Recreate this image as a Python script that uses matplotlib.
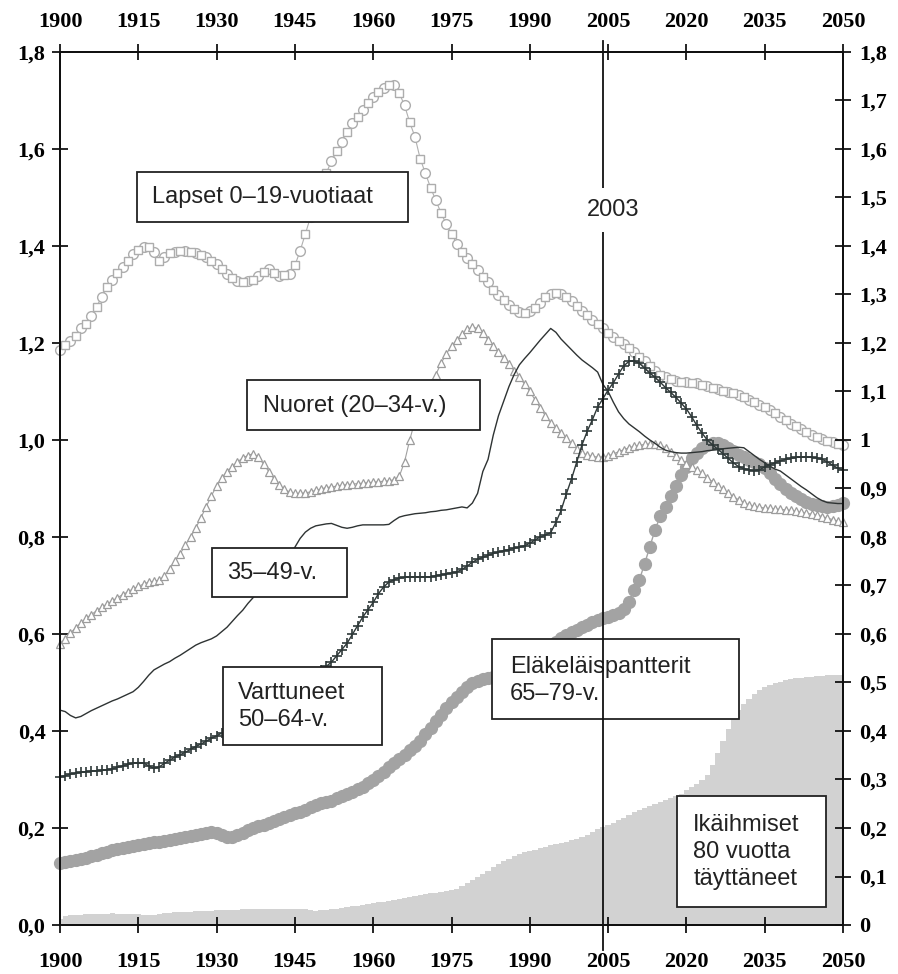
import numpy as np
import matplotlib.pyplot as plt
from matplotlib.patches import Rectangle

years = np.arange(1900, 2051)

# Lapset 0-19-vuotiaat
lapset = [1.185, 1.195, 1.205, 1.215, 1.23, 1.24, 1.255, 1.275, 1.295, 1.315,
          1.33, 1.345, 1.357, 1.37, 1.383, 1.392, 1.397, 1.398, 1.388, 1.37,
          1.378, 1.385, 1.388, 1.39, 1.39, 1.388, 1.386, 1.382, 1.377, 1.37,
          1.362, 1.352, 1.343, 1.335, 1.328, 1.326, 1.327, 1.33, 1.338, 1.346,
          1.352, 1.345, 1.338, 1.34, 1.343, 1.36, 1.39, 1.425, 1.46, 1.49,
          1.52, 1.55, 1.575, 1.595, 1.615, 1.636, 1.653, 1.667, 1.68, 1.694,
          1.707, 1.717, 1.726, 1.731, 1.732, 1.715, 1.69, 1.655, 1.625, 1.58,
          1.55, 1.52, 1.494, 1.468, 1.445, 1.425, 1.405, 1.388, 1.375, 1.362,
          1.35, 1.337, 1.325, 1.31, 1.298, 1.288, 1.278, 1.27, 1.263, 1.262,
          1.265, 1.272, 1.282, 1.295, 1.302, 1.304, 1.301, 1.295, 1.287, 1.276,
          1.265, 1.257, 1.248, 1.24, 1.23, 1.22, 1.212, 1.204, 1.197, 1.19,
          1.182, 1.172, 1.162, 1.152, 1.142, 1.134, 1.13, 1.126, 1.122, 1.12,
          1.119, 1.118, 1.117, 1.114, 1.111, 1.108, 1.105, 1.102, 1.099, 1.097,
          1.093, 1.088, 1.083, 1.078, 1.073, 1.068, 1.062, 1.055, 1.048, 1.041,
          1.034, 1.028, 1.022, 1.016, 1.011, 1.006, 1.002, 0.998, 0.995, 0.992,
          0.99]

# Nuoret 20-34
nuoret = [0.58, 0.59, 0.602, 0.613, 0.623, 0.632, 0.64, 0.648, 0.655, 0.662,
          0.668, 0.675, 0.681, 0.687, 0.693, 0.698, 0.703, 0.707, 0.709, 0.711,
          0.72, 0.735, 0.75, 0.765, 0.783, 0.8, 0.818, 0.84, 0.862, 0.885,
          0.905, 0.922, 0.935, 0.945, 0.955, 0.963, 0.968, 0.972, 0.965, 0.95,
          0.935, 0.92, 0.907, 0.898, 0.893, 0.89, 0.89, 0.891, 0.893, 0.896,
          0.899, 0.902, 0.903, 0.905, 0.907, 0.908, 0.909, 0.91, 0.911, 0.912,
          0.913, 0.914, 0.915, 0.916, 0.918, 0.925, 0.955, 1.0, 1.04, 1.075,
          1.1, 1.118, 1.135, 1.158, 1.178, 1.193, 1.206, 1.218, 1.228, 1.233,
          1.23, 1.22, 1.207, 1.194, 1.181, 1.169, 1.156, 1.143, 1.13, 1.115,
          1.1, 1.083, 1.066, 1.05, 1.036, 1.024, 1.015, 1.004, 0.993, 0.982,
          0.974, 0.969, 0.966, 0.965, 0.965, 0.967, 0.971, 0.976, 0.98, 0.984,
          0.987, 0.989, 0.991, 0.992, 0.992, 0.99, 0.984, 0.975, 0.966, 0.958,
          0.951, 0.944, 0.938, 0.931, 0.922, 0.914, 0.906, 0.898, 0.89, 0.883,
          0.877, 0.871, 0.866, 0.863, 0.861, 0.86, 0.859, 0.858, 0.857, 0.856,
          0.855, 0.853, 0.851, 0.849, 0.847, 0.845, 0.842, 0.839, 0.836, 0.833,
          0.83]

# 35-49
keski = [0.443, 0.44, 0.432, 0.427, 0.43, 0.436, 0.442, 0.447, 0.452, 0.457,
         0.462, 0.466, 0.471, 0.476, 0.481, 0.49, 0.502, 0.515, 0.526, 0.532,
         0.538, 0.543, 0.55, 0.556, 0.563, 0.57, 0.577, 0.582, 0.586, 0.59,
         0.596, 0.605, 0.614, 0.626, 0.638, 0.649, 0.663, 0.675, 0.688, 0.7,
         0.713, 0.726, 0.739, 0.752, 0.765, 0.779, 0.797, 0.81, 0.818, 0.823,
         0.825, 0.827, 0.828, 0.824, 0.82, 0.818, 0.82, 0.823, 0.825, 0.825,
         0.825, 0.825, 0.825, 0.826, 0.834, 0.841, 0.844, 0.846, 0.848, 0.849,
         0.85, 0.852, 0.853, 0.855, 0.856, 0.858, 0.86, 0.862, 0.86, 0.87,
         0.89, 0.935, 0.96, 1.01, 1.05, 1.08, 1.11, 1.135, 1.155, 1.168,
         1.18, 1.193, 1.206, 1.218, 1.23, 1.222, 1.208, 1.197, 1.186, 1.175,
         1.165, 1.157, 1.149, 1.14, 1.115, 1.1, 1.078, 1.058, 1.044, 1.033,
         1.025, 1.017, 1.008, 1.0, 0.993, 0.985, 0.979, 0.976, 0.974, 0.973,
         0.973, 0.974, 0.975, 0.976, 0.978, 0.979, 0.98, 0.982, 0.983, 0.984,
         0.985, 0.984, 0.976, 0.968, 0.96, 0.953, 0.946, 0.94, 0.936, 0.928,
         0.92, 0.912, 0.904, 0.897, 0.889, 0.881, 0.875, 0.871, 0.87, 0.869,
         0.869]

# Varttuneet 50-64
varttuneet = [0.305, 0.308, 0.311, 0.313, 0.315, 0.316, 0.317, 0.318, 0.319, 0.32,
              0.322, 0.325, 0.328, 0.331, 0.334, 0.335, 0.334, 0.328, 0.323, 0.326,
              0.333, 0.34, 0.346, 0.351, 0.356, 0.362, 0.368, 0.373, 0.379, 0.385,
              0.39, 0.396, 0.403, 0.41, 0.417, 0.424, 0.43, 0.437, 0.443, 0.45,
              0.456, 0.462, 0.468, 0.474, 0.48, 0.487, 0.494, 0.502, 0.51, 0.518,
              0.526, 0.533, 0.542, 0.555, 0.568, 0.581, 0.599, 0.617, 0.635, 0.65,
              0.665, 0.683, 0.697, 0.707, 0.712, 0.715, 0.717, 0.718, 0.718, 0.718,
              0.718, 0.718, 0.72, 0.722, 0.724, 0.726, 0.728, 0.733, 0.74, 0.748,
              0.754, 0.758, 0.762, 0.766, 0.769, 0.772, 0.774, 0.777, 0.779, 0.782,
              0.787, 0.794, 0.8, 0.804, 0.809, 0.83, 0.855, 0.889, 0.92, 0.955,
              0.99, 1.018, 1.042, 1.068, 1.085, 1.103, 1.118, 1.136, 1.153, 1.162,
              1.163, 1.158, 1.148, 1.138, 1.129, 1.119, 1.108, 1.098, 1.088, 1.076,
              1.064, 1.048, 1.03, 1.014, 1.0, 0.99, 0.981, 0.972, 0.962, 0.953,
              0.945, 0.941, 0.938, 0.937, 0.939, 0.944, 0.949, 0.953, 0.957, 0.96,
              0.962, 0.964, 0.965, 0.965, 0.964, 0.963, 0.96, 0.955, 0.948, 0.942,
              0.938]

# Eläkeläispantterit 65-79
elake = [0.128, 0.13, 0.132, 0.134, 0.137, 0.139, 0.142, 0.145, 0.148, 0.151,
         0.154, 0.157, 0.159, 0.161, 0.163, 0.165, 0.167, 0.169, 0.171, 0.172,
         0.174, 0.175, 0.177, 0.179, 0.181, 0.183, 0.185, 0.188, 0.19, 0.192,
         0.19, 0.186, 0.182, 0.181, 0.185, 0.19, 0.195, 0.2, 0.204, 0.207,
         0.211, 0.215, 0.219, 0.222, 0.226, 0.23, 0.234, 0.238, 0.243, 0.247,
         0.251, 0.253, 0.256, 0.261, 0.266, 0.27, 0.275, 0.28, 0.285, 0.292,
         0.3, 0.308, 0.316, 0.325, 0.333, 0.342, 0.351, 0.361, 0.37, 0.38,
         0.393, 0.407, 0.42, 0.434, 0.447, 0.46, 0.471, 0.481, 0.49, 0.498,
         0.503, 0.507, 0.509, 0.511, 0.514, 0.518, 0.523, 0.528, 0.534, 0.54,
         0.547, 0.554, 0.562, 0.569, 0.576, 0.584, 0.592, 0.598, 0.604, 0.609,
         0.614, 0.619, 0.624, 0.628, 0.632, 0.636, 0.64, 0.644, 0.652, 0.665,
         0.69, 0.712, 0.745, 0.78, 0.815, 0.843, 0.862, 0.885, 0.905, 0.927,
         0.945, 0.962, 0.973, 0.983, 0.99, 0.994, 0.994, 0.99, 0.984, 0.977,
         0.969, 0.964, 0.959, 0.955, 0.951, 0.942, 0.931, 0.92, 0.909, 0.899,
         0.891, 0.884, 0.878, 0.873, 0.869, 0.866, 0.863, 0.862, 0.863, 0.866,
         0.87]

# Ikäihmiset 80+
ikaihmiset = [0.012, 0.018, 0.02, 0.021, 0.021, 0.022, 0.022, 0.022, 0.023, 0.023,
              0.024, 0.023, 0.022, 0.022, 0.022, 0.023, 0.021, 0.02, 0.021, 0.023,
              0.024, 0.025, 0.026, 0.026, 0.027, 0.027, 0.028, 0.028, 0.029, 0.029,
              0.03, 0.03, 0.031, 0.031, 0.031, 0.032, 0.032, 0.032, 0.033, 0.033,
              0.033, 0.033, 0.034, 0.034, 0.034, 0.034, 0.034, 0.033, 0.03, 0.029,
              0.03, 0.031, 0.032, 0.034, 0.035, 0.037, 0.039, 0.04, 0.042, 0.044,
              0.045, 0.047, 0.048, 0.05, 0.052, 0.054, 0.056, 0.058, 0.06, 0.062,
              0.063, 0.065, 0.066, 0.068, 0.07, 0.072, 0.075, 0.08, 0.086, 0.093,
              0.099, 0.106, 0.112, 0.119, 0.125, 0.131, 0.137, 0.142, 0.146, 0.15,
              0.153, 0.155, 0.158, 0.161, 0.164, 0.167, 0.169, 0.172, 0.175, 0.178,
              0.181, 0.186, 0.192, 0.197, 0.202, 0.206, 0.211, 0.216, 0.221, 0.227,
              0.232, 0.237, 0.241, 0.245, 0.249, 0.253, 0.258, 0.262, 0.266, 0.27,
              0.278, 0.284, 0.29, 0.299, 0.31, 0.33, 0.355, 0.38, 0.405, 0.425,
              0.443, 0.455, 0.467, 0.477, 0.485, 0.49, 0.495, 0.499, 0.502, 0.505,
              0.507, 0.509, 0.51, 0.511, 0.512, 0.513, 0.514, 0.515, 0.515, 0.515,
              0.515]

xticks = list(range(1900, 2051, 15))
left_ticks = [0.0, 0.2, 0.4, 0.6, 0.8, 1.0, 1.2, 1.4, 1.6, 1.8]
left_labels = ["0,0", "0,2", "0,4", "0,6", "0,8", "1,0", "1,2", "1,4", "1,6", "1,8"]
right_ticks = [i / 10 for i in range(19)]
right_labels = ["0", "0,1", "0,2", "0,3", "0,4", "0,5", "0,6", "0,7", "0,8", "0,9",
                "1", "1,1", "1,2", "1,3", "1,4", "1,5", "1,6", "1,7", "1,8"]

# tekstilaatikot: (x0, x1, y0, y1, tekstin x, tekstin y, teksti)
boxes = [
    (1914.8, 1966.7, 1.449, 1.553, 1917.6, 1.500, "Lapset 0–19-vuotiaat"),
    (1935.8, 1980.5, 1.021, 1.124, 1938.9, 1.071, "Nuoret (20–34-v.)"),
    (1929.1, 1955.0, 0.676, 0.777, 1932.0, 0.726, "35–49-v."),
    (1931.2, 1961.7, 0.371, 0.532, 1934.1, 0.451, "Varttuneet\n50–64-v."),
    (1982.8, 2030.1, 0.425, 0.590, 1986.2, 0.505, "Eläkeläispantterit\n65–79-v."),
    (2018.2, 2046.7, 0.037, 0.266, 2021.3, 0.150, "Ikäihmiset\n80 vuotta\ntäyttäneet"),
]

plt.rcParams['font.family'] = ['Liberation Serif', 'DejaVu Serif']
fig = plt.figure(figsize=(8.98, 9.74), dpi=100)
ax = fig.add_axes([60 / 898, 49 / 974, 783 / 898, 873 / 974])

ax.fill_between(years, 0, ikaihmiset, step='mid', color='#d2d2d2', lw=0, zorder=1)

ax.plot(years, elake, color='#a3a3a3', lw=1, marker='o', ms=8.5, mec='#a3a3a3',
        mfc='#a3a3a3', zorder=3, clip_on=False)
ax.plot(years, keski, color='#2e3333', lw=1.0, zorder=4, clip_on=False)
ax.plot(years, nuoret, color='#a0a0a0', lw=0.8, marker='^', ms=6, mfc='white',
        mec='#9c9c9c', mew=0.9, zorder=3, clip_on=False)
ax.plot(years, varttuneet, color='#2e3838', lw=1.0, marker='+', ms=7.5, mew=1.2,
        zorder=5, clip_on=False)
ax.plot(years, lapset, color='#b0b0b0', lw=0.8, zorder=2, clip_on=False)
ax.plot(years[::2], lapset[::2], ls='none', marker='o', ms=7, mfc='white',
        mec='#adadad', mew=1.0, zorder=2, clip_on=False)
ax.plot(years[1::2], lapset[1::2], ls='none', marker='s', ms=6.2, mfc='white',
        mec='#adadad', mew=1.0, zorder=2, clip_on=False)

for x0, x1, y0, y1, tx, ty, txt in boxes:
    ax.add_patch(Rectangle((x0, y0), x1 - x0, y1 - y0, facecolor='white',
                           edgecolor='#222222', lw=1.3, zorder=6, clip_on=False))
    ax.text(tx, ty, txt, family=['Liberation Sans', 'DejaVu Sans'], fontsize=17,
            color='#222222', ha='left', va='center', linespacing=1.3, zorder=7)

# vuoden 2003 viiva
ax.plot([2004, 2004], [-0.052, 1.822], color='#111111', lw=1.3, zorder=8, clip_on=False)
ax.text(2006, 1.474, "2003", family=['Liberation Sans', 'DejaVu Sans'], fontsize=17,
        color='#222222', ha='center', va='center', zorder=9,
        bbox=dict(facecolor='white', edgecolor='none', pad=8))

ax.set_xlim(1900, 2050)
ax.set_ylim(0, 1.8)
ax.set_xticks(xticks)
ax.set_xticklabels([str(x) for x in xticks])
ax.set_yticks(left_ticks)
ax.set_yticklabels(left_labels)
ax.tick_params(axis='x', direction='inout', length=11, width=1.2, pad=14, labelsize=16)
ax.tick_params(axis='y', direction='inout', length=11, width=1.2, pad=5, labelsize=16)
for lab in ax.get_xticklabels() + ax.get_yticklabels():
    lab.set_fontweight('bold')

ax3 = ax.twiny()
ax3.set_xlim(1900, 2050)
ax3.set_xticks(xticks)
ax3.set_xticklabels([str(x) for x in xticks])
ax3.tick_params(axis='x', direction='inout', length=11, width=1.2, pad=9, labelsize=16)
for lab in ax3.get_xticklabels():
    lab.set_fontweight('bold')

ax2 = ax.twinx()
ax2.set_ylim(0, 1.8)
ax2.set_yticks(right_ticks)
ax2.set_yticklabels(right_labels)
ax2.tick_params(axis='y', direction='inout', length=11, width=1.2, pad=6, labelsize=16)
for lab in ax2.get_yticklabels():
    lab.set_fontweight('bold')

for a in (ax, ax2, ax3):
    for s in a.spines.values():
        s.set_linewidth(1.3)
        s.set_color('#111111')

fig.savefig("out.png", dpi=100)
